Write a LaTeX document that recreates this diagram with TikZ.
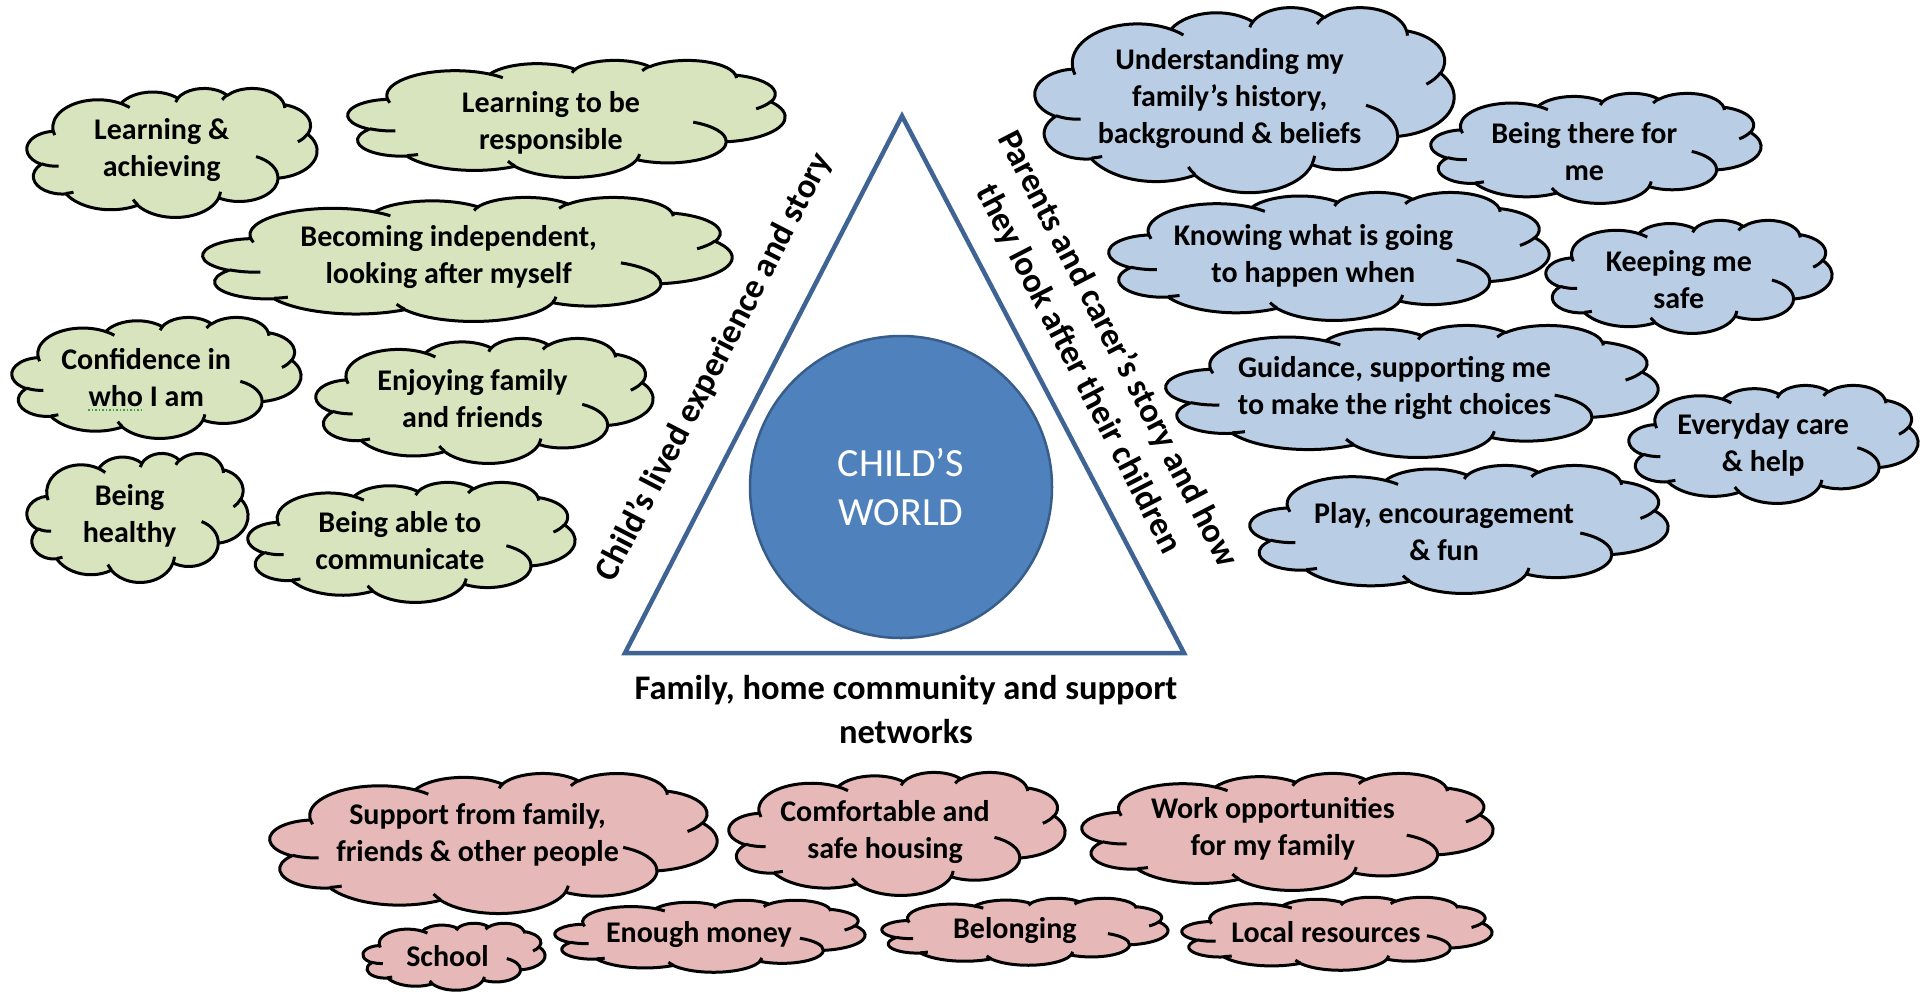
\documentclass[tikz,border=0pt]{standalone}
\usepackage{fontspec}
\setmainfont{Carlito}
\definecolor{cgreen}{HTML}{D7E4BD}
\definecolor{cblue}{HTML}{B9CDE5}
\definecolor{cpink}{HTML}{E6B9B8}
\definecolor{triline}{HTML}{3F6494}
\definecolor{worldfill}{HTML}{4F81BD}
\definecolor{worldline}{HTML}{385D8A}
\definecolor{squiggle}{HTML}{3CA03C}

\newcommand\mkarc[5]{%
  \pgfmathsetmacro\clTmpS{atan2((#2)*sin(#4),(#3)*cos(#4))}%
  \pgfmathsetmacro\clTmpE{atan2((#2)*sin((#4)+(#5)),(#3)*cos((#4)+(#5)))}%
  \pgfmathsetmacro\clTmpD{\clTmpE-\clTmpS}%
  \pgfmathsetmacro\clTmpD{\clTmpD+360*(\clTmpD<0)}%
  \pgfmathsetmacro\clTmpE{\clTmpS+\clTmpD}%
  \expandafter\xdef\csname cl#1s\endcsname{\clTmpS}%
  \expandafter\xdef\csname cl#1e\endcsname{\clTmpE}%
}
% outline arcs
\mkarc{A}{6.753}{9.190}{-190.48748}{123.78053}
\mkarc{B}{5.333}{7.267}{-144.10238}{89.94523}
\mkarc{C}{4.365}{5.945}{-145.80792}{99.72302}
\mkarc{D}{4.857}{6.595}{-130.98607}{117.24173}
\mkarc{E}{5.333}{7.273}{-78.70888}{109.02692}
\mkarc{F}{6.775}{9.220}{-46.26725}{130.269}
\mkarc{G}{5.785}{7.867}{0.62502}{114.03333}
\mkarc{H}{6.752}{9.215}{22.4516}{115.17255}
\mkarc{I}{7.720}{10.543}{66.24263}{75.71102}
\mkarc{J}{4.360}{5.918}{-274.94208}{146.73557}
\mkarc{K}{4.345}{5.945}{-246.8285}{152.51885}
% inner arcs
\mkarc{a}{4.345}{5.945}{86.742}{26.4295}
\mkarc{b}{4.360}{5.918}{73.61047}{11.44747}
\mkarc{c}{6.752}{9.215}{137.62415}{14.0811}
\mkarc{d}{6.752}{9.215}{6.45327}{15.99835}
\mkarc{e}{5.785}{7.867}{-70.29235}{70.91737}
\mkarc{f}{5.333}{7.273}{30.31803}{27.7515}
\mkarc{g}{4.857}{6.595}{-13.74433}{14.85037}
\mkarc{h}{4.857}{6.595}{-149.18145}{18.19797}
\mkarc{i}{4.365}{5.945}{-163.49427}{17.83793}
\mkarc{j}{6.753}{9.190}{-66.70695}{12.31935}
\mkarc{k}{6.753}{9.190}{157.65435}{11.85817}

\tikzset{
 cloudline/.style={draw=black, line width=3pt, line join=round},
 ctext/.style={font=\fontsize{30pt}{37pt}\selectfont\bfseries, align=center, inner sep=0pt, text=black},
 lbl/.style={font=\fontsize{34.5pt}{44pt}\selectfont\bfseries, align=center, inner sep=0pt, text=black},
 tri/.style={draw=triline, line width=4.5pt, line join=miter, fill=white},
 world/.style={circle, fill=worldfill, draw=worldline, line width=2.5pt, minimum size=302pt, inner sep=0pt, text=white, font=\fontsize{40pt}{49pt}\selectfont, align=center},
}

\newcommand\cloudpic[5]{%
\begin{scope}[shift={(#1,#2)},x=1pt,y=1pt,xscale={(#3)/43.2},yscale={-(#4)/43.2}]
\filldraw[cloudline,fill=#5] (3.9,14.37)
 arc[start angle=\clAs,end angle=\clAe,x radius=6.753,y radius=9.190]
 arc[start angle=\clBs,end angle=\clBe,x radius=5.333,y radius=7.267]
 arc[start angle=\clCs,end angle=\clCe,x radius=4.365,y radius=5.945]
 arc[start angle=\clDs,end angle=\clDe,x radius=4.857,y radius=6.595]
 arc[start angle=\clEs,end angle=\clEe,x radius=5.333,y radius=7.273]
 arc[start angle=\clFs,end angle=\clFe,x radius=6.775,y radius=9.220]
 arc[start angle=\clGs,end angle=\clGe,x radius=5.785,y radius=7.867]
 arc[start angle=\clHs,end angle=\clHe,x radius=6.752,y radius=9.215]
 arc[start angle=\clIs,end angle=\clIe,x radius=7.720,y radius=10.543]
 arc[start angle=\clJs,end angle=\clJe,x radius=4.360,y radius=5.918]
 arc[start angle=\clKs,end angle=\clKe,x radius=4.345,y radius=5.945] -- cycle;
\draw[cloudline] (4.693,26.177) arc[start angle=\clas,end angle=\clae,x radius=4.345,y radius=5.945]
 (6.928,34.899) arc[start angle=\clbs,end angle=\clbe,x radius=4.360,y radius=5.918]
 (16.478,39.090) arc[start angle=\clcs,end angle=\clce,x radius=6.752,y radius=9.215]
 (28.827,34.751) arc[start angle=\clds,end angle=\clde,x radius=6.752,y radius=9.215]
 (34.129,22.954) arc[start angle=\cles,end angle=\clee,x radius=5.785,y radius=7.867]
 (41.798,15.354) arc[start angle=\clfs,end angle=\clfe,x radius=5.333,y radius=7.273]
 (38.324,5.426) arc[start angle=\clgs,end angle=\clge,x radius=4.857,y radius=6.595]
 (29.078,3.952) arc[start angle=\clhs,end angle=\clhe,x radius=4.857,y radius=6.595]
 (22.141,4.720) arc[start angle=\clis,end angle=\clie,x radius=4.365,y radius=5.945]
 (14.000,5.192) arc[start angle=\cljs,end angle=\clje,x radius=6.753,y radius=9.190]
 (4.127,15.789) arc[start angle=\clks,end angle=\clke,x radius=6.753,y radius=9.190];
\end{scope}}

% name, left, top, width, height, fill, text-y-offset, text
\newcommand\cld[8]{\cloudpic{#2}{#3}{#4}{#5}{#6}%
 \node[ctext] (#1) at ({#2+0.4644*#4},{#3+0.4768*#5+#7}) {#8};}

\begin{document}
\begin{tikzpicture}[x=1pt,y=-1pt]
\useasboundingbox (0,0) rectangle (1925,991);
\fill[white] (0,0) rectangle (1925,991);

% green clouds
\cld{g1}{27}{88}{290}{129}{cgreen}{1}{Learning \&\\achieving}
\cld{g2}{348}{60}{437}{117}{cgreen}{7}{Learning to be\\responsible}
\cld{g3}{203}{197}{529}{124}{cgreen}{1}{Becoming independent,\\looking after myself}
\cld{g4}{12}{317}{289}{121}{cgreen}{3}{Confidence in\\who I am}
\cld{g5}{316}{338}{337}{125}{cgreen}{1}{Enjoying family\\and friends}
\cld{g6}{27}{453}{221}{129}{cgreen}{1}{Being\\healthy}
\cld{g7}{248}{482}{327}{120}{cgreen}{1}{Being able to\\communicate}
\draw[squiggle, line width=1.5pt, dotted] (88,410) -- (143,410);

% blue clouds
\cld{b1}{1035}{7}{419}{185}{cblue}{3}{Understanding my\\family’s history,\\background \& beliefs}
\cld{b2}{1431}{93}{330}{110}{cblue}{6}{Being there for\\me}
\cld{b3}{1109}{192}{440}{128}{cblue}{3}{Knowing what is going\\to happen when}
\cld{b4}{1546}{220}{286}{113}{cblue}{6}{Keeping me\\safe}
\cld{b5}{1166}{325}{492}{132}{cblue}{0}{Guidance, supporting me\\to make the right choices}
\cld{b6}{1629}{385}{289}{118}{cblue}{4}{Everyday care\\\& help}
\cld{b7}{1250}{465}{418}{128}{cblue}{6}{Play, encouragement\\\& fun}

% pink clouds
\cld{p1}{270}{773}{447}{140}{cpink}{-5}{Support from family,\\friends \& other people}
\cld{p2}{729}{772}{336}{123}{cpink}{1}{Comfortable and\\safe housing}
\cld{p3}{1082}{773}{411}{117}{cpink}{0}{Work opportunities\\for my family}
\cld{p4}{363}{923}{182}{67}{cpink}{1}{School}
\cld{p5}{555}{900}{310}{72}{cpink}{0}{Enough money}
\cld{p6}{882}{898}{286}{67}{cpink}{1}{Belonging}
\cld{p7}{1182}{897}{310}{73}{cpink}{0}{Local resources}

% triangle and centre
\coordinate (apex) at (902,116);
\coordinate (bl) at (625,653);
\coordinate (br) at (1184,653);
\draw[tri] (apex) -- (br) -- (bl) -- cycle;
\node[world] (cw) at (901,487) {CHILD’S\\WORLD};

\node[lbl, rotate=62.7] (lside) at (714,367) {Child’s lived experience and story};
\node[lbl, rotate=-62.7] (rside) at (1098,359) {Parents and carer’s story and how\\they look after their children};
\node[lbl] (base) at (906,710) {Family, home community and support\\networks};
\end{tikzpicture}
\end{document}
